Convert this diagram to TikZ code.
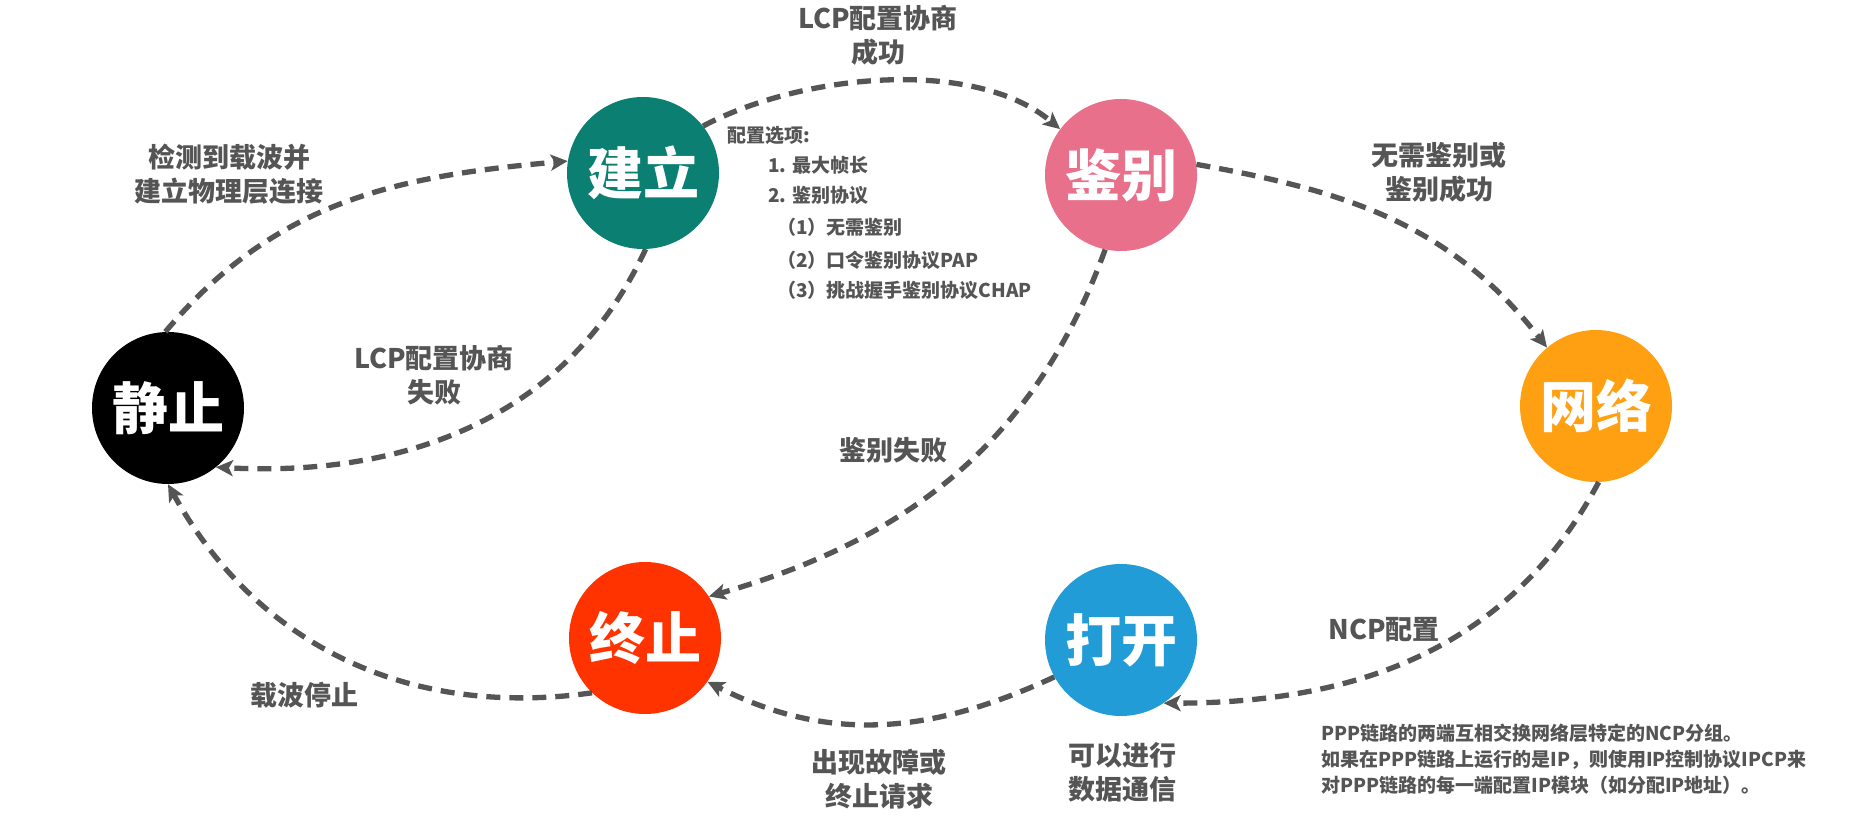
\documentclass[tikz,border=0pt]{standalone}
\usepackage{fontspec}
\setmainfont{Noto Sans CJK SC}
\usetikzlibrary{arrows.meta}
\definecolor{labgray}{HTML}{555555}
\definecolor{lngray}{HTML}{555555}
\definecolor{cteal}{HTML}{0B7F72}
\definecolor{cpink}{HTML}{E8708A}
\definecolor{corange}{HTML}{FFA012}
\definecolor{cblue}{HTML}{229CD6}
\definecolor{cred}{HTML}{FF3300}
\begin{document}
\begin{tikzpicture}[x=1pt,y=1pt,
  st/.style={circle, minimum size=152pt, inner sep=0pt, text=white, font=\fontsize{56}{60}\selectfont\bfseries},
  lbl/.style={text=labgray, align=center, font=\fontsize{27}{34}\selectfont\bfseries, inner sep=0pt},
  note/.style={text=labgray, anchor=west, font=\fontsize{19}{26}\selectfont\bfseries, inner sep=0pt},
  conn/.style={draw=lngray, line width=5.3pt, dash pattern=on 14pt off 9pt, -{Stealth[length=17pt,width=16pt,inset=4pt]}},
]
\useasboundingbox (0,0) rectangle (1850,833);
\fill[white] (0,0) rectangle (1850,833);

% states
\node[st, fill=black]   (jz) at (168,425) {静止};
\node[st, fill=cteal]   (jl) at (643,660) {建立};
\node[st, fill=cpink]   (jb) at (1121,658) {鉴别};
\node[st, fill=corange] (wl) at (1596,427) {网络};
\node[st, fill=cblue]   (dk) at (1121,193) {打开};
\node[st, fill=cred]    (zz) at (645,195) {终止};

% connectors
\draw[conn] (jz.92) to[out=50, in=185] (jl.171);
\draw[conn] (jl.38) to[out=28, in=140, looseness=0.8] (jb.143);
\draw[conn] (jl.-88) to[out=-115, in=-3] (jz.-51);
\draw[conn] (jb.8) to[out=-10, in=128] (wl.130);
\draw[conn] (jb.-102) to[out=-110, in=16] (zz.33);
\draw[conn] (wl.-88) to[out=-118, in=0] (dk.-56);
\draw[conn] (dk.-151) to[out=-155, in=-27] (zz.-35);
\draw[conn] (zz.-134) to[out=-172, in=-61] (jz.-90);

% labels
\node[lbl] (t1) at (878,798) {LCP配置协商\\成功};
\node[lbl] (t2) at (229,659) {检测到载波并\\建立物理层连接};
\node[lbl] (t3) at (434,458) {LCP配置协商\\失败};
\node[lbl] (t5) at (1439,661) {无需鉴别或\\鉴别成功};
\node[lbl] (t6) at (893,383) {鉴别失败};
\node[lbl] (t7) at (1384,203) {NCP配置};
\node[lbl] (t8) at (304,138) {载波停止};
\node[lbl] (t9) at (879,54) {出现故障或\\终止请求};
\node[lbl] (t10) at (1122,61) {可以进行\\数据通信};

% configuration options
\node[note] (c0) at (727,698) {配置选项:};
\node[note] (c1) at (768,668) {1. 最大帧长};
\node[note] (c2) at (768,638) {2. 鉴别协议};
\node[note] (c3) at (777,606) {（1）无需鉴别};
\node[note] (c4) at (777,573) {（2）口令鉴别协议PAP};
\node[note] (c5) at (777,543) {（3）挑战握手鉴别协议CHAP};

% NCP note
\node[note, align=left] (p1) at (1321,74) {PPP链路的两端互相交换网络层特定的NCP分组。\\如果在PPP链路上运行的是IP，则使用IP控制协议IPCP来\\对PPP链路的每一端配置IP模块（如分配IP地址）。};
\end{tikzpicture}
\end{document}
